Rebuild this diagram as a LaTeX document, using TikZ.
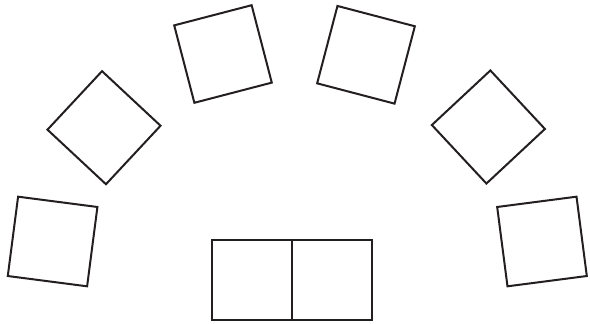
\documentclass[tikz,border=0pt]{standalone}
\usepackage{tikz}
\usetikzlibrary{positioning}
\definecolor{inkline}{RGB}{35,31,32}
\tikzset{
  seat/.style={draw=inkline, line width=2pt, inner sep=0pt, outer sep=0pt, minimum size=80pt},
}

\begin{document}
\begin{tikzpicture}[x=1pt,y=-1pt]
\useasboundingbox (0,0) rectangle (590,324);
% chairs round the arc
\node[seat,rotate=-7.4] (chairA) at (52.6,241.5) {};
\node[seat,rotate=-43] (chairB) at (104,127.7) {};
\node[seat,rotate=-75.4] (chairC) at (223,54) {};
\node[seat,rotate=75.3] (chairD) at (366,54.8) {};
\node[seat,rotate=43] (chairE) at (488.4,127) {};
\node[seat,rotate=7.4] (chairF) at (542,241.5) {};
% desk
\node[seat] (deskL) at (252,280) {};
\node[seat,right=0pt of deskL] (deskR) {};
\end{tikzpicture}
\end{document}
